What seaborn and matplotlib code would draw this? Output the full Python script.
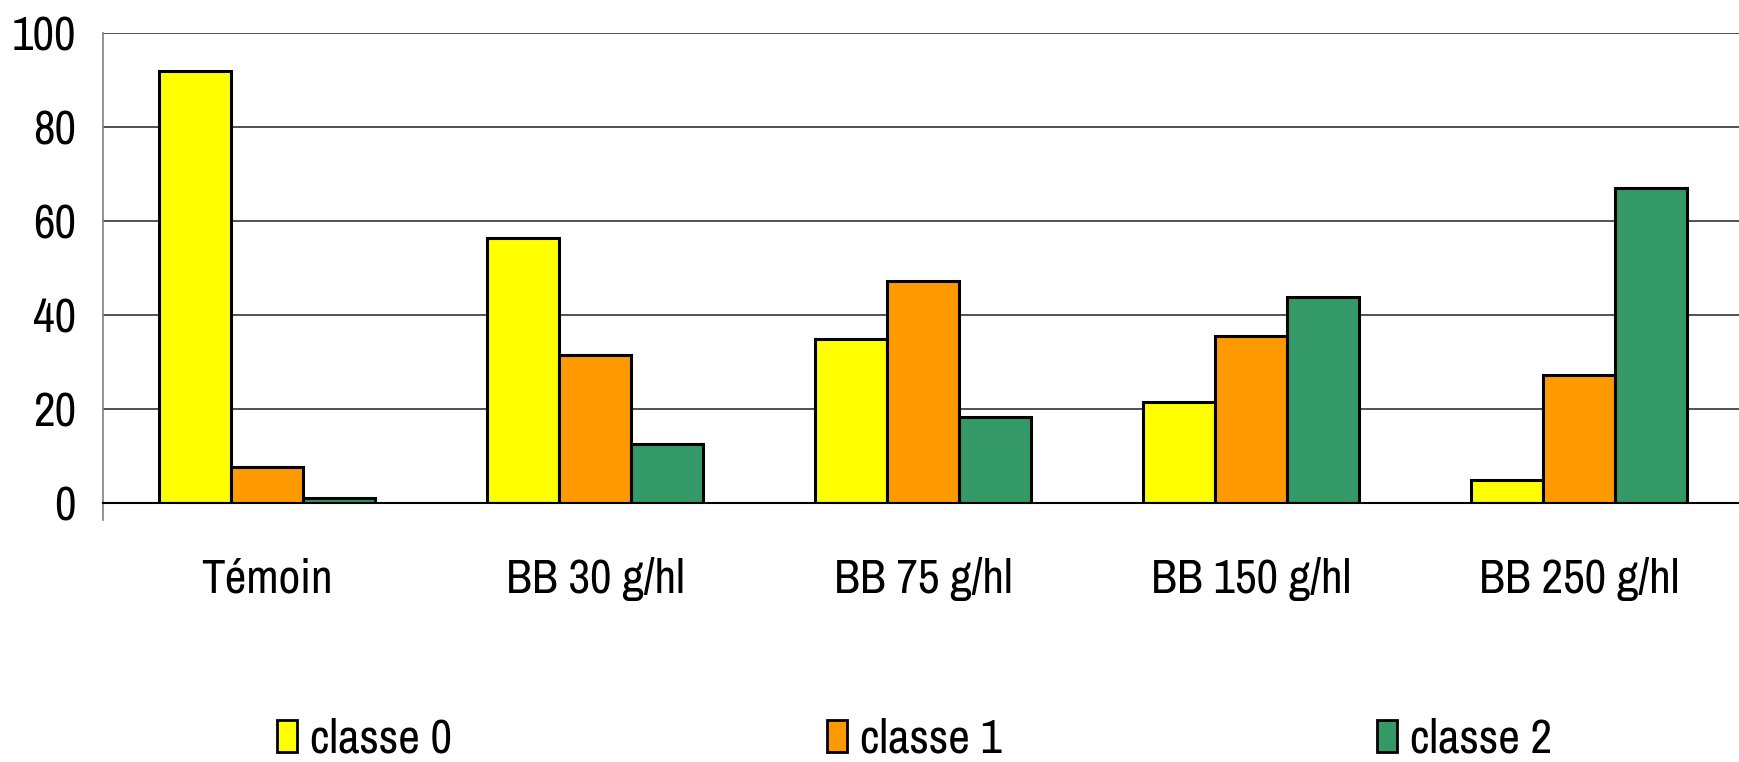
import pandas as pd
import numpy as np
import seaborn as sns
import matplotlib.pyplot as plt
from matplotlib.patches import Patch

# valeurs (%)
traitements = ["Témoin", "BB 30 g/hl", "BB 75 g/hl", "BB 150 g/hl", "BB 250 g/hl"]
classes = ["classe 0", "classe 1", "classe 2"]
classe_0 = [92.0, 56.3, 34.8, 21.5, 5.0]
classe_1 = [7.6, 31.5, 47.3, 35.6, 27.3]
classe_2 = [1.1, 12.5, 18.2, 43.9, 67.1]
couleurs = ["#FFFF00", "#FF9900", "#339966"]

df = pd.DataFrame({
    "traitement": traitements * 3,
    "classe": [c for c in classes for _ in traitements],
    "pct": classe_0 + classe_1 + classe_2,
})

sns.set_style("white")
# police étroite type Arial Narrow, avec repli
plt.rcParams["font.family"] = ["Liberation Sans Narrow", "Archivo Narrow", "Roboto Condensed",
                               "Liberation Sans", "DejaVu Sans"]
plt.rcParams["text.color"] = "black"
plt.rcParams["xtick.color"] = "black"
plt.rcParams["ytick.color"] = "black"

fig = plt.figure(figsize=(17.39, 7.62), dpi=100)
ax = fig.add_axes([103 / 1739, 1 - 503 / 762, 1640 / 1739, 470 / 762])

sns.barplot(data=df, x="traitement", y="pct", hue="classe", palette=couleurs,
            order=traitements, hue_order=classes, width=0.66,
            edgecolor="black", linewidth=2.2, saturation=1, legend=False, ax=ax)

ax.set_xlim(-0.5, 4.5)
ax.set_ylim(0, 100)
ax.set_yticks([0, 20, 40, 60, 80, 100])
ax.set_xlabel("")
ax.set_ylabel("")
ax.grid(axis="y", color="#222222", linewidth=1.1)
ax.set_axisbelow(True)

for s in ["top", "right"]:
    ax.spines[s].set_visible(False)
ax.spines["bottom"].set_color("black")
ax.spines["bottom"].set_linewidth(1.5)
ax.spines["left"].set_color("#808080")
ax.spines["left"].set_linewidth(1.2)
ax.spines["left"].set_bounds(-3.6, 100)

ax.set_xticks(np.arange(0.5, 4, 1), minor=True)
ax.tick_params(axis="x", which="minor", length=11.5, width=1, color="#333333", direction="out")
ax.tick_params(axis="x", which="major", length=0, pad=39, labelsize=34, labelcolor="black")
ax.tick_params(axis="y", length=8.6, width=1, color="black", direction="out", pad=11,
               labelsize=34, labelcolor="black")

handles = [Patch(facecolor=c, edgecolor="black", linewidth=2) for c in couleurs]
fig.legend(handles, classes, loc="center left", bbox_to_anchor=(277 / 1739, 1 - 739 / 762),
           ncol=3, frameon=False, fontsize=34, borderpad=0, borderaxespad=0,
           handlelength=0.43, handleheight=0.68, handletextpad=0.26, columnspacing=7.95)

fig.savefig("out.png", dpi=100)
